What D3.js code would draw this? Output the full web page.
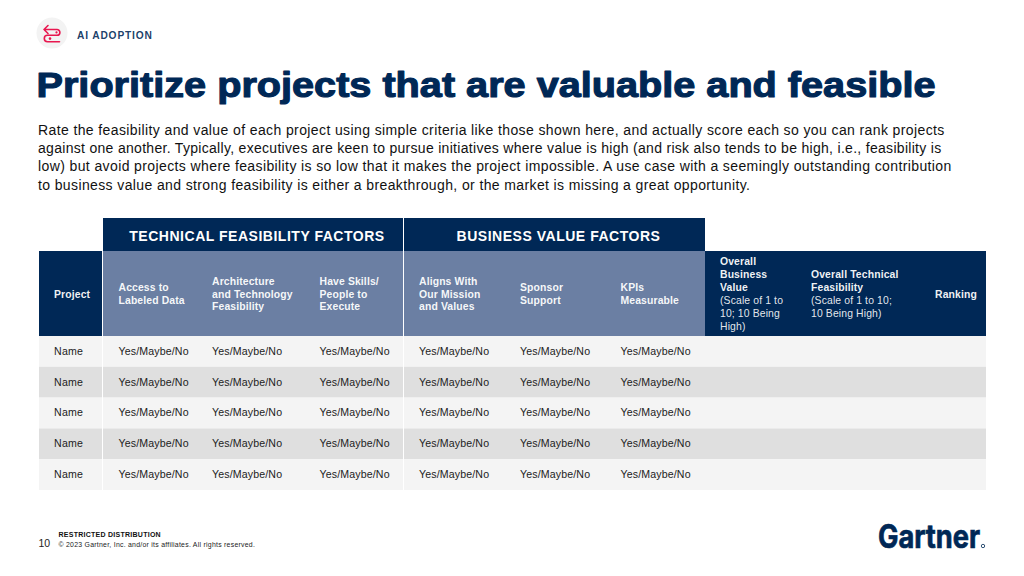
<!DOCTYPE html>
<html><head><meta charset="utf-8">
<script src="https://cdn.jsdelivr.net/npm/d3@7"></script>
<style>html,body{margin:0;padding:0;background:#fff}svg{display:block;font-family:"Liberation Sans",Arial,sans-serif}</style>
</head><body><svg id="c" width="1024" height="576"></svg>
<script>
const title = "Prioritize projects that are valuable and feasible";
const bodyLines = [
"Rate the feasibility and value of each project using simple criteria like those shown here, and actually score each so you can rank projects",
"against one another. Typically, executives are keen to pursue initiatives where value is high (and risk also tends to be high, i.e., feasibility is",
"low) but avoid projects where feasibility is so low that it makes the project impossible. A use case with a seemingly outstanding contribution",
"to business value and strong feasibility is either a breakthrough, or the market is missing a great opportunity."];
const groups = ["TECHNICAL FEASIBILITY FACTORS","BUSINESS VALUE FACTORS"];
const projectHead = ["Project"];
const factorHeads = [["Access to","Labeled Data"],["Architecture","and Technology","Feasibility"],["Have Skills/","People to","Execute"],["Aligns With","Our Mission","and Values"],["Sponsor","Support"],["KPIs","Measurable"]];
const overallHeads = [
 [["Overall",1],["Business",1],["Value",1],["(Scale of 1 to",0],["10; 10 Being",0],["High)",0]],
 [["Overall Technical",1],["Feasibility",1],["(Scale of 1 to 10;",0],["10 Being High)",0]],
 [["Ranking",1]]];
const rows = ["Name","Name","Name","Name","Name"];
const answer = "Yes/Maybe/No";

const navy="#002856", steel="#6B7FA3", light="#F4F4F4", dark="#DFDFDF", pink="#E8174F";
const svg=d3.select("#c");

const textX=[54,118.5,212,319.5,419,520,620.5,720,811,935];
const rowY=d3.scaleBand().domain(d3.range(rows.length)).range([336,490]);
const tracking=[0.39,0.3,0.39,0.38];

// badge
svg.append("circle").attr("cx",52).attr("cy",33).attr("r",15.5).attr("fill","#F3F3F3");
svg.append("path").attr("fill","none").attr("stroke",pink).attr("stroke-width",1.6).attr("stroke-linecap","round").attr("stroke-linejoin","round")
  .attr("d","M48 25.5 L44 29.5 L48 33.5 M44 29.5 H57 A2.9 2.9 0 0 1 57 35.3 H47.5 A3.2 3.2 0 0 0 47.5 41.7 H59.5");
svg.append("circle").attr("cx",50).attr("cy",38.6).attr("r",1.3).attr("fill",pink);
svg.append("circle").attr("cx",56.5).attr("cy",32.4).attr("r",1.1).attr("fill",pink);
svg.append("text").attr("x",77).attr("y",38.5).attr("font-size",10.2).attr("font-weight",700).attr("letter-spacing",0.85).attr("fill",navy).attr("fill-opacity",0.9).text("AI ADOPTION");

svg.append("text").attr("x",36.5).attr("y",97.3).attr("font-size",34.5).attr("font-weight",700).attr("fill",navy).attr("stroke",navy).attr("stroke-width",1.1).attr("stroke-linejoin","round").attr("textLength",899).attr("lengthAdjust","spacingAndGlyphs").text(title);

svg.selectAll("text.body").data(bodyLines).join("text").attr("class","body").attr("x",38).attr("y",(d,i)=>135+i*18.2).attr("font-size",14).attr("letter-spacing",(d,i)=>tracking[i]).attr("fill","#111").text(d=>d);

// group header
const gx=[[103,403],[404,705]];
svg.selectAll("rect.g").data(groups).join("rect").attr("class","g").attr("x",(d,i)=>gx[i][0]).attr("y",218).attr("width",(d,i)=>gx[i][1]-gx[i][0]).attr("height",33).attr("fill",navy);
svg.selectAll("text.g").data(groups).join("text").attr("class","g").attr("x",(d,i)=>(gx[i][0]+gx[i][1])/2+4).attr("y",240.5).attr("text-anchor","middle").attr("font-size",14).attr("font-weight",700).attr("letter-spacing",0.52).attr("fill","#fff").text(d=>d);

// sub header
svg.append("rect").attr("x",39).attr("y",251).attr("width",63).attr("height",85).attr("fill",navy);
svg.append("rect").attr("x",103).attr("y",251).attr("width",300).attr("height",85).attr("fill",steel);
svg.append("rect").attr("x",404).attr("y",251).attr("width",301).attr("height",85).attr("fill",steel);
svg.append("rect").attr("x",705).attr("y",251).attr("width",281).attr("height",85).attr("fill",navy);

const lh=12.85, midY=293.5;
function block(x,lines){
  const n=lines.length;
  lines.forEach((l,i)=>{
    svg.append("text").attr("x",x).attr("y",midY+4-(n-1)*lh/2+i*lh).attr("font-size",10.4).attr("font-weight",l[1]?700:400).attr("letter-spacing",0.13).attr("fill","#fff").attr("fill-opacity",l[1]?0.95:0.9).text(l[0]);
  });
}
block(textX[0],projectHead.map(d=>[d,1]));
factorHeads.forEach((h,i)=>block(textX[i+1],h.map(d=>[d,1])));
overallHeads.forEach((h,i)=>block(textX[i+7],h));

// body rows
svg.selectAll("rect.r").data(rows).join("rect").attr("class","r").attr("x",39).attr("y",(d,i)=>rowY(i)).attr("width",947).attr("height",rowY.bandwidth()).attr("fill",(d,i)=>i%2?dark:light);
svg.selectAll("line.sep").data([102.5,403.5]).join("line").attr("class","sep").attr("x1",d=>d).attr("x2",d=>d).attr("y1",336).attr("y2",490).attr("stroke","#fff").attr("stroke-width",1);
rows.forEach((n,i)=>{
  const y=rowY(i)+rowY.bandwidth()/2+3.4;
  svg.append("text").attr("x",textX[0]).attr("y",y).attr("font-size",10.6).attr("fill","#222").attr("letter-spacing",0.25).text(n);
  for(let c=1;c<=6;c++) svg.append("text").attr("x",textX[c]).attr("y",y).attr("font-size",10.6).attr("letter-spacing",0.14).attr("fill","#222").text(answer);
});

// footer
svg.append("text").attr("x",38.5).attr("y",547).attr("font-size",10.5).attr("fill","#222").text("10");
svg.append("text").attr("x",58.5).attr("y",536.5).attr("font-size",7).attr("font-weight",700).attr("letter-spacing",0.26).attr("fill","#111").text("RESTRICTED DISTRIBUTION");
svg.append("text").attr("x",58.5).attr("y",547).attr("font-size",6.9).attr("letter-spacing",0.26).attr("fill","#222").text("© 2023 Gartner, Inc. and/or its affiliates. All rights reserved.");
svg.append("text").attr("x",878).attr("y",547.5).attr("font-size",32).attr("font-weight",700).attr("fill",navy).attr("stroke",navy).attr("stroke-width",0.7).attr("textLength",102).attr("lengthAdjust","spacingAndGlyphs").attr("style","font-family:Inter").text("Gartner");
svg.append("circle").attr("cx",983).attr("cy",546).attr("r",1.7).attr("fill","none").attr("stroke",navy).attr("stroke-width",0.8);
</script></body></html>
